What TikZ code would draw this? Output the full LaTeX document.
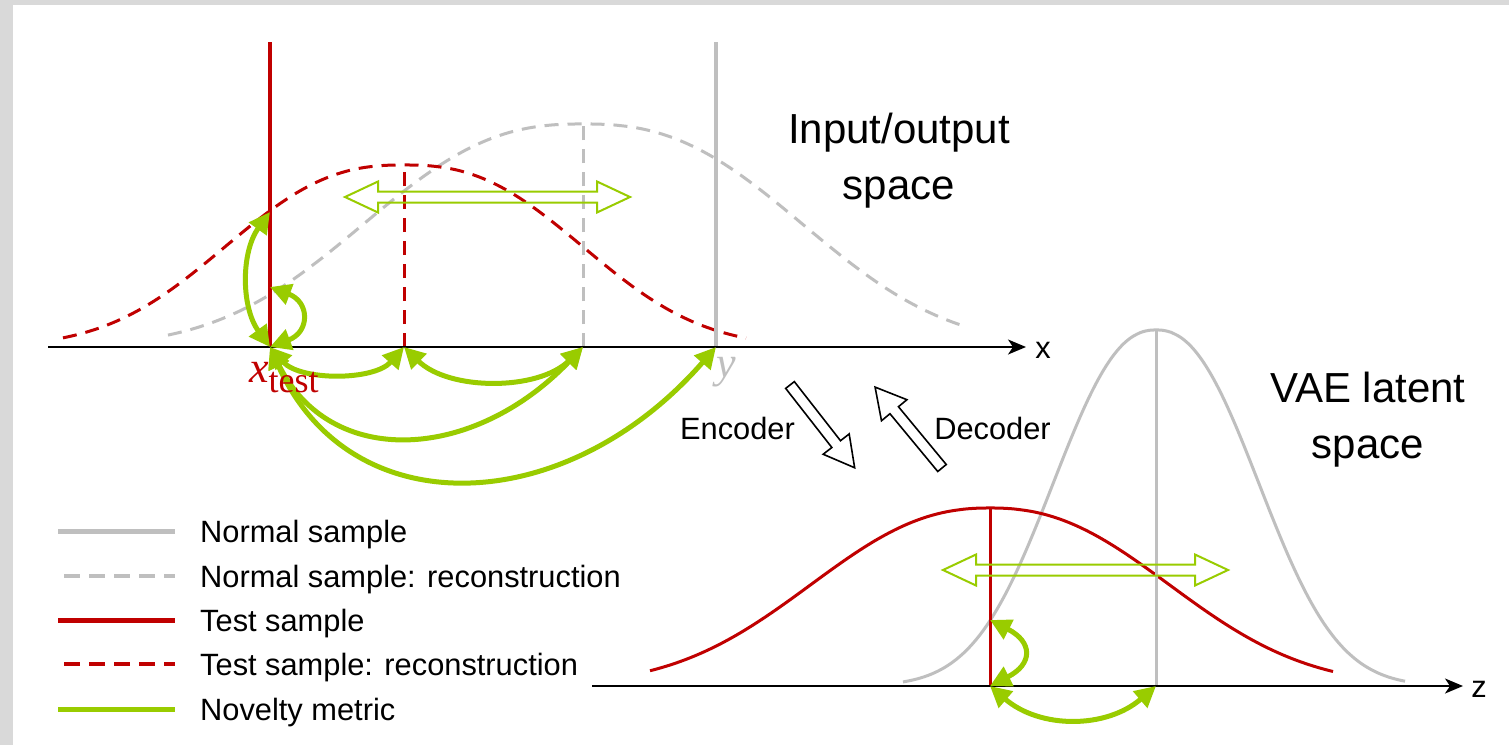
\documentclass[tikz,border=0pt]{standalone}
\usepackage{fontspec}
\setmainfont{Liberation Sans}
\newfontfamily\serifm{Liberation Serif}
\usetikzlibrary{arrows.meta,calc}
\definecolor{tred}{HTML}{C00000}
\definecolor{lgray}{HTML}{BFBFBF}
\definecolor{ngreen}{HTML}{99CC00}
\definecolor{framegray}{HTML}{D9D9D9}
\newcommand{\lmit}{\serifm\fontsize{44}{48}\selectfont\itshape}
\newcommand{\lmsub}{\serifm\fontsize{36}{40}\selectfont\upshape}
\begin{document}
\begin{tikzpicture}[x=1pt,y=-1pt,
  lbl/.style={font=\fontsize{30.8}{36}\selectfont, inner sep=0pt},
  biglbl/.style={font=\fontsize{42}{50}\selectfont, inner sep=0pt},
  dashpat/.style={dash pattern=on 14pt off 9pt},
  nov/.style={draw=ngreen, line width=5pt, <->, >={Triangle[length=21pt,width=21pt]}},
  axisline/.style={draw=black, line width=2pt, -{Stealth[length=18pt,width=15pt,inset=5pt]}},
  hollowgreen/.style={draw=ngreen, line width=2pt, line join=miter},
  hollowblack/.style={draw=black, fill=white, line width=1.6pt, line join=miter},
]
\useasboundingbox (0,0) rectangle (1509,745);
\fill[framegray] (0,0) rectangle (1509,745);
\fill[white] (13,5) rectangle (1509,745);

% ---------- top plot: curves ----------
\draw[lgray, line width=3pt, dashpat] plot[domain=168:967, samples=160, smooth]
  (\x,{347-223*exp(0-pow((abs(\x-583)+0.01)/270,2.5))});
\draw[tred, line width=3pt, dashpat] plot[domain=63:746, samples=150, smooth]
  (\x,{347-182*exp(0-pow((abs(\x-404)+0.01)/220,2.5))});

% coordinates on top axis
\coordinate (xt) at (270,347);
\coordinate (rt) at (270,212);
\coordinate (gx) at (270,287);
\coordinate (rm) at (404,347);
\coordinate (rmtop) at (404,165);
\coordinate (gm) at (583,347);
\coordinate (gmtop) at (583,124);
\coordinate (yy) at (716,347);
\coordinate (xtop) at (270,42);
\coordinate (ytop) at (716,42);

% verticals
\draw[tred, line width=3pt, dashpat] (rm) -- (rmtop);
\draw[lgray, line width=3pt, dashpat] (gm) -- (gmtop);
\draw[lgray, line width=4.5pt] (yy) -- (ytop);
\draw[tred, line width=4.5pt] (xt) -- (xtop);

% top axis
\coordinate (axl) at (48,347);
\coordinate (axr) at (1026,347);
\draw[axisline] (axl) -- (axr);
\node[lbl, anchor=base] (xlab) at (1043,358) {x};

% ---------- bottom plot ----------
\draw[lgray, line width=3pt] plot[domain=903:1405, samples=160, smooth]
  (\x,{686-356*exp(0-pow((abs(\x-1156)+0.01)/132,2.3))});
\draw[tred, line width=3pt] plot[domain=650:1333, samples=160, smooth]
  (\x,{686-178*exp(0-pow((abs(\x-990)+0.01)/230,2.3))});

\coordinate (zr) at (990,686);
\coordinate (zrtop) at (990,508);
\coordinate (zg) at (990,620);
\coordinate (zc) at (1156,686);
\coordinate (zctop) at (1156,330);
\draw[lgray, line width=3pt] (zc) -- (zctop);
\draw[tred, line width=3pt] (zr) -- (zrtop);

\coordinate (bxl) at (592,686);
\coordinate (bxr) at (1463,686);
\draw[axisline] (bxl) -- (bxr);
\node[lbl, anchor=base] (zlab) at (1479,697) {z};

% ---------- novelty arrows ----------
\draw[nov] (xt) .. controls +(-29,-40) and +(-29,40) .. (rt);
\draw[nov] (xt) .. controls +(40,-15) and +(40,15) .. (gx);
\draw[nov] (xt) .. controls +(30,34) and +(-30,34) .. (rm);
\draw[nov] (rm) .. controls +(45,44) and +(-45,44) .. (gm);
\draw[nov] (xt) .. controls +(60,122) and +(-110,115) .. (gm);
\draw[nov] (xt) .. controls +(80,180) and +(-150,172) .. (yy);

\draw[nov] (zr) .. controls +(43,-22) and +(43,22) .. (zg);
\draw[nov] (zr) .. controls +(50,43) and +(-50,43) .. (zc);

% ---------- hollow double arrows ----------
\begin{scope}[shift={(487.5,197)}]
\draw[hollowgreen] (-142.5,0) -- (-109.5,-15.5) -- (-109.5,-5.5) -- (109.5,-5.5) -- (109.5,-15.5)
  -- (142.5,0) -- (109.5,15.5) -- (109.5,5.5) -- (-109.5,5.5) -- (-109.5,15.5) -- cycle;
\end{scope}
\begin{scope}[shift={(1085.5,570)}]
\draw[hollowgreen] (-142.5,0) -- (-109.5,-15.5) -- (-109.5,-5.5) -- (109.5,-5.5) -- (109.5,-15.5)
  -- (142.5,0) -- (109.5,15.5) -- (109.5,5.5) -- (-109.5,5.5) -- (-109.5,15.5) -- cycle;
\end{scope}

% ---------- encoder / decoder arrows ----------
\begin{scope}[shift={(790,385)}, rotate=-52]
\draw[hollowblack] (0,-5.5) -- (75,-5.5) -- (75,-16.5) -- (105,0) -- (75,16.5) -- (75,5.5) -- (0,5.5) -- cycle;
\end{scope}
\begin{scope}[shift={(942,468)}, rotate=129.6]
\draw[hollowblack] (0,-5.5) -- (75,-5.5) -- (75,-16.5) -- (105,0) -- (75,16.5) -- (75,5.5) -- (0,5.5) -- cycle;
\end{scope}
\node[lbl, anchor=base] (enc) at (737.5,439) {Encoder};
\node[lbl, anchor=base] (dec) at (992.5,439) {Decoder};

% ---------- labels ----------
\node[text=tred, anchor=base west, inner sep=0pt] (xtestlab) at (249,382)
  {{\lmit x}\raisebox{-10pt}{\lmsub test}};
\node[text=lgray, anchor=base, inner sep=0pt] (ylab) at (726,377) {\lmit y};

\node[biglbl, anchor=base] (io1) at (899,143) {Input/output};
\node[biglbl, anchor=base] (io2) at (899,199) {space};
\node[biglbl, anchor=base] (vae1) at (1368,402) {VAE latent};
\node[biglbl, anchor=base] (vae2) at (1368,458) {space};

% ---------- legend ----------
\draw[lgray, line width=5pt] (58,531) -- (175,531);
\draw[lgray, line width=3.5pt, dash pattern=on 15.5pt off 9.5pt] (64,576) -- (175,576);
\draw[tred, line width=5pt] (58,620) -- (175,620);
\draw[tred, line width=3.5pt, dash pattern=on 15.5pt off 9.5pt] (64,664) -- (175,664);
\draw[ngreen, line width=5pt] (58,709) -- (175,709);
\node[lbl, anchor=base west] (lg1) at (200,542) {Normal sample};
\node[lbl, anchor=base west] (lg2) at (200,587) {Normal sample: reconstruction};
\node[lbl, anchor=base west] (lg3) at (200,631) {Test sample};
\node[lbl, anchor=base west] (lg4) at (200,675) {Test sample: reconstruction};
\node[lbl, anchor=base west] (lg5) at (200,720) {Novelty metric};
\end{tikzpicture}
\end{document}
